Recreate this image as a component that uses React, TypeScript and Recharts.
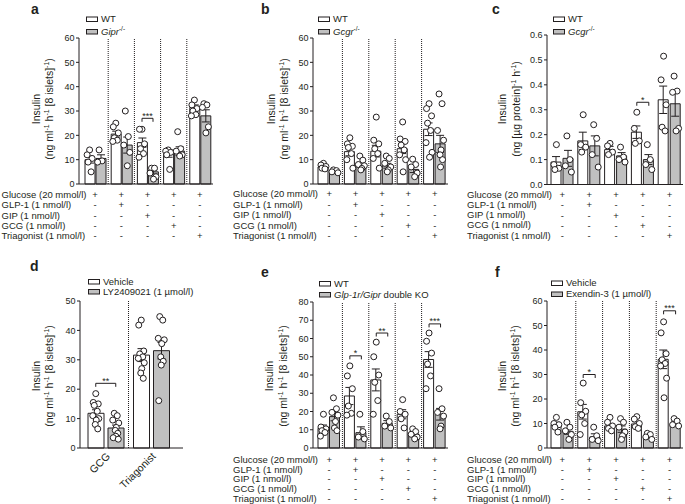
import React from 'react';
import { ComposedChart, Bar, ErrorBar, Scatter, XAxis, YAxis, ReferenceLine } from 'recharts';

const FONT = '"Liberation Sans", Arial, Helvetica, sans-serif';
const INK = '#231f20';
const GREY = '#c0c0c0';

// treatment table shared by panels a, b, c, e, f
const CONDS = ['Glucose', 'GLP-1', 'GIP', 'GCG', 'Triagonist'];
const ROW_LABELS = ['Glucose (20 mmol/l)', 'GLP-1 (1 nmol/l)', 'GIP (1 nmol/l)', 'GCG (1 nmol/l)', 'Triagonist (1 nmol/l)'];
const ROW_SIGNS = [
  ['+', '+', '+', '+', '+'],
  ['-', '+', '-', '-', '-'],
  ['-', '-', '+', '-', '-'],
  ['-', '-', '-', '+', '-'],
  ['-', '-', '-', '-', '+'],
];

// --- panel a: WT vs Gipr-/- ---
const A_WT_MEAN = [10, 20.5, 17, 12.5, 31.5];
const A_WT_SEM = [1.4, 1.2, 1.9, 1.5, 1.0];
const A_KO_MEAN = [10.5, 16, 5, 13.5, 28];
const A_KO_SEM = [1.5, 3.3, 0.9, 1.8, 2.5];
const A_WT_PTS = [[14, 12, 10.5, 9, 5], [25, 23.5, 21, 19, 18, 17.5], [22.5, 22.5, 16.5, 14.5, 12.5, 11], [14, 13.5, 13, 12, 6], [34.5, 32.5, 31, 30, 28.5, 28]];
const A_KO_PTS = [[14, 9.5, 9], [30, 19.5, 16, 13, 7.5], [6.5, 6.5, 4.5, 3, 2], [21.5, 14.5, 13.5, 12, 11.5], [33, 32.5, 31.5, 23.5, 21]];
const A_SIG_Y = [null, null, 27, null, null];
const A_SIG = ['', '', '***', '', ''];

// --- panel b: WT vs Gcgr-/- (islets) ---
const B_WT_MEAN = [7, 13.3, 13.5, 14.5, 22.5];
const B_WT_SEM = [0.5, 1.7, 2.4, 2.0, 2.6];
const B_KO_MEAN = [5.2, 8, 7.5, 6, 16.5];
const B_KO_SEM = [0.3, 0.9, 1.0, 1.3, 3.5];
const B_WT_PTS = [[8.5, 7.8, 7.2, 6.5, 6.2], [19, 16.5, 15.5, 15, 12.5, 10, 6.5], [27.5, 18, 16.5, 14.5, 12.5, 10.5, 6.5], [25.5, 18.5, 17.5, 16, 14, 12, 10, 5], [33, 31, 28, 25, 22, 17, 13, 11]];
const B_KO_PTS = [[5.8, 5.5, 5, 4.6], [11.5, 9.8, 8, 7.5, 6.4, 5.8], [11.5, 10.5, 8.5, 7, 5.8, 5], [10.2, 8, 7, 4.5, 3], [37, 33, 22, 18, 14, 12, 10, 7]];
const B_SIG_Y = [null, null, null, null, null];
const B_SIG = ['', '', '', '', ''];

// --- panel c: WT vs Gcgr-/- (per protein) ---
const C_WT_MEAN = [0.09, 0.175, 0.14, 0.21, 0.34];
const C_WT_SEM = [0.022, 0.035, 0.013, 0.025, 0.055];
const C_KO_MEAN = [0.105, 0.155, 0.115, 0.1, 0.324];
const C_KO_SEM = [0.032, 0.04, 0.013, 0.02, 0.05];
const C_WT_PTS = [[0.16, 0.08, 0.065, 0.06], [0.28, 0.16, 0.15, 0.13], [0.165, 0.155, 0.13, 0.12], [0.29, 0.225, 0.175, 0.165], [0.515, 0.42, 0.32, 0.23, 0.215]];
const C_KO_PTS = [[0.195, 0.1, 0.075, 0.05], [0.24, 0.185, 0.12, 0.07], [0.15, 0.11, 0.1, 0.09], [0.16, 0.1, 0.08, 0.06], [0.435, 0.375, 0.37, 0.225, 0.215]];
const C_SIG_Y = [null, null, null, 0.33, null];
const C_SIG = ['', '', '', '*', ''];

// --- panel d: vehicle vs LY2409021 ---
const D_CONDS = ['GCG', 'Triagonist'];
const D_VEH_MEAN = [11.8, 31.6];
const D_VEH_SEM = [1.2, 2.2];
const D_LY_MEAN = [6.8, 33.1];
const D_LY_SEM = [1.0, 2.8];
const D_VEH_PTS = [[18.5, 15.5, 15, 14.5, 12.5, 11, 10, 9.5, 8, 6.5], [43.5, 41.8, 33, 32, 31, 30.5, 29, 27, 25.5, 23.7]];
const D_LY_PTS = [[11.8, 11, 9.5, 8.5, 7, 6, 5, 4, 3.5, 3], [44.7, 43.5, 37.3, 36.8, 35.5, 31, 29.5, 28.2, 16.1]];
const D_SIG_Y = [22, null];
const D_SIG = ['**', ''];

// --- panel e: WT vs Glp-1r/Gipr double KO ---
const E_WT_MEAN = [10.8, 28.5, 37.3, 18.5, 48.5];
const E_WT_SEM = [1.8, 4.7, 6, 2.5, 4.3];
const E_KO_MEAN = [17.2, 8.4, 13.5, 7.7, 18.5];
const E_KO_SEM = [2.3, 3.2, 1.5, 1.0, 3.2];
const E_WT_PTS = [[18.5, 11.5, 10.5, 9.5, 8.5, 6.5], [45, 39.5, 32.5, 23, 19, 18], [58, 50, 40, 36, 26, 18.5], [26.5, 20, 18.5, 16, 11], [63, 58.5, 52, 46, 39.5, 32.5]];
const E_KO_PTS = [[27.5, 21.5, 19.5, 18, 14.5, 11, 9.5], [18.5, 9, 6, 5], [17.5, 14.5, 12, 11], [10.5, 9, 7.5, 6, 5], [32.5, 21.5, 19.5, 17.5, 12, 10.5]];
const E_SIG_Y = [null, 50.5, 63, null, 68];
const E_SIG = ['', '*', '**', '', '***'];

// --- panel f: vehicle vs Exendin-3 ---
const F_VEH_MEAN = [9.5, 14.8, 9, 9.8, 36.2];
const F_VEH_SEM = [1.0, 3, 0.9, 0.9, 3.8];
const F_EX_MEAN = [6.8, 4.5, 7.7, 4.5, 10];
const F_EX_SEM = [1.2, 1.3, 1.3, 0.6, 0.7];
const F_VEH_PTS = [[12.5, 10, 9.5, 8.5, 6.5], [26.5, 18.5, 15, 13.5, 10, 5.5], [12.5, 10.5, 9, 8, 7], [12.8, 11.8, 10, 8.7, 8], [51.5, 47, 38.5, 36, 34.5, 33.5, 28.5, 20.5]];
const F_EX_PTS = [[10.5, 8.5, 7, 5.5, 3.5], [8.5, 5, 3.5, 3], [12, 10.5, 8.5, 6.5, 5, 3.5], [6, 5.5, 4.5, 3.5], [12, 11, 9.5, 9]];
const F_SIG_Y = [null, 30, null, null, 56];
const F_SIG = ['', '*', '', '', '***'];

const TICKS_60 = [0, 10, 20, 30, 40, 50, 60];
const TICKS_50 = [0, 10, 20, 30, 40, 50];
const TICKS_80 = [0, 10, 20, 30, 40, 50, 60, 70, 80];
const TICKS_C = [0, 0.1, 0.2, 0.3, 0.4, 0.5, 0.6];

// y-axis unit lines: [text, isSuperscript]
const UNIT_ISLETS: [string, boolean][] = [['(ng ml', false], ['-1', true], [' h', false], ['-1', true], [' [8 islets]', false], ['-1', true], [')', false]];
const UNIT_PROTEIN: [string, boolean][] = [['(ng [µg protein]', false], ['-1', true], [' h', false], ['-1', true], [')', false]];

// horizontal spread of the dots inside a bar
const JIT = [0, -2.5, 2.5, -1.5, 1.5, -3, 3, 0.5, -0.5, 2];

const TABLE_FS = 9.5;

type Series = { means: number[]; sems: number[]; pts: number[][] };
type Cfg = {
  conds: string[];
  wt: Series;
  ko: Series;
  sigY: (number | null)[];
  sigTxt: string[];
  axisX: number;
  plotTop: number;
  plotBottom: number;
  plotRight: number;
  yMax: number;
  yTicks: number[];
  dec: number;
  barSize: number;
  barGap: number;
  padL: number;
  padR: number;
  separators: boolean;
  table: boolean;
  rowStart: number;
  rowStep: number;
};

const dotShape = (dx: number, k: number) => (props: any) => {
  const { cx, cy } = props;
  if (!Number.isFinite(cx) || !Number.isFinite(cy)) return <g />;
  return <circle cx={cx + dx + JIT[k % JIT.length]} cy={cy} r={3} fill="#fff" stroke={INK} strokeWidth={1} />;
};

const sigShape = (half: number) => (props: any) => {
  const { cx, cy, payload } = props;
  if (!Number.isFinite(cy) || !payload || !payload.sigTxt) return <g />;
  return (
    <g>
      <path d={`M${cx - half},${cy + 3.5}V${cy}H${cx + half}V${cy + 3.5}`} fill="none" stroke={INK} strokeWidth={1} />
      <text x={cx} y={cy + 0.5} textAnchor="middle" fontSize={9} fontFamily={FONT} fill={INK}>
        {payload.sigTxt}
      </text>
    </g>
  );
};

const TableTick = (props: any) => {
  const { x, y, payload, rowStart, rowStep } = props;
  const i = CONDS.indexOf(payload.value);
  return (
    <g>
      {ROW_SIGNS.map((r, k) => (
        <text key={k} x={x} y={y + rowStart + k * rowStep} textAnchor="middle" dominantBaseline="central"
          fontSize={TABLE_FS} fontFamily={FONT} fill={INK}>
          {r[i]}
        </text>
      ))}
    </g>
  );
};

const RotTick = (props: any) => {
  const { x, y, payload } = props;
  const tx = x + 5;
  const ty = y + 9;
  return (
    <text x={tx} y={ty} transform={`rotate(-45, ${tx}, ${ty})`} textAnchor="end" fontSize={10.5} fontFamily={FONT} fill={INK}>
      {payload.value}
    </text>
  );
};

const Panel = ({ cfg }: { cfg: Cfg }) => {
  const YW = 40, MT = 8, MR = 4;
  const XH = cfg.table ? 60 : 56;
  const plotW = cfg.plotRight - cfg.axisX;
  const plotH = cfg.plotBottom - cfg.plotTop;

  const data = cfg.conds.map((c, i) => {
    const row: Record<string, any> = {
      cond: c,
      wt: cfg.wt.means[i],
      wtSem: cfg.wt.sems[i],
      ko: cfg.ko.means[i],
      koSem: cfg.ko.sems[i],
      sig: cfg.sigY[i],
      sigTxt: cfg.sigTxt[i],
    };
    cfg.wt.pts[i].forEach((v, k) => { row['wp' + k] = v; });
    cfg.ko.pts[i].forEach((v, k) => { row['kp' + k] = v; });
    return row;
  });
  const nW = Math.max(...cfg.wt.pts.map((p) => p.length));
  const nK = Math.max(...cfg.ko.pts.map((p) => p.length));
  const off = (cfg.barSize + cfg.barGap) / 2;

  return (
    <div style={{ position: 'absolute', left: cfg.axisX - YW, top: cfg.plotTop - MT }}>
      <ComposedChart
        width={YW + plotW + MR}
        height={MT + plotH + XH}
        data={data}
        margin={{ top: MT, right: MR, left: 0, bottom: 0 }}
        barSize={cfg.barSize}
        barGap={cfg.barGap}
      >
        <XAxis
          dataKey="cond"
          allowDuplicatedCategory={false}
          padding={{ left: cfg.padL, right: cfg.padR }}
          height={XH}
          interval={0}
          axisLine={{ stroke: INK, strokeWidth: 1 }}
          tickLine={false}
          tickSize={0}
          tickMargin={0}
          tick={cfg.table
            ? (p: any) => <TableTick {...p} rowStart={cfg.rowStart} rowStep={cfg.rowStep} />
            : (p: any) => <RotTick {...p} />}
        />
        <YAxis
          width={YW}
          domain={[0, cfg.yMax]}
          ticks={cfg.yTicks}
          interval={0}
          axisLine={{ stroke: INK, strokeWidth: 1 }}
          tickLine={{ stroke: INK, strokeWidth: 1 }}
          tickSize={3}
          tickMargin={1.5}
          tick={{ fontSize: 9, fill: INK, fontFamily: FONT }}
          tickFormatter={(v: number) => v.toFixed(cfg.dec)}
        />
        {cfg.separators && cfg.conds.slice(1).map((c) => (
          <ReferenceLine key={c} x={c} position="start" stroke={INK} strokeWidth={1} strokeDasharray="1 1" />
        ))}
        <Bar dataKey="wt" fill="#ffffff" stroke={INK} strokeWidth={1} isAnimationActive={false}>
          <ErrorBar dataKey="wtSem" width={4} stroke={INK} strokeWidth={1} direction="y" />
        </Bar>
        <Bar dataKey="ko" fill={GREY} stroke={INK} strokeWidth={1} isAnimationActive={false}>
          <ErrorBar dataKey="koSem" width={4} stroke={INK} strokeWidth={1} direction="y" />
        </Bar>
        {Array.from({ length: nW }, (_, k) => (
          <Scatter key={'w' + k} dataKey={'wp' + k} isAnimationActive={false} shape={dotShape(-off, k)} />
        ))}
        {Array.from({ length: nK }, (_, k) => (
          <Scatter key={'k' + k} dataKey={'kp' + k} isAnimationActive={false} shape={dotShape(off, k + 3)} />
        ))}
        <Scatter dataKey="sig" isAnimationActive={false} shape={sigShape(off)} />
      </ComposedChart>
    </div>
  );
};

const YTitle = ({ x1, x2, cy, unit }: { x1: number; x2: number; cy: number; unit: [string, boolean][] }) => (
  <g fontSize={10.5}>
    <text transform={`translate(${x1},${cy}) rotate(-90)`} textAnchor="middle">Insulin</text>
    <text transform={`translate(${x2},${cy}) rotate(-90)`} textAnchor="middle">
      {unit.map(([t, sup], i) => (
        <tspan key={i} dy={sup ? -4 : i > 0 && unit[i - 1][1] ? 4 : 0} fontSize={sup ? 7 : undefined}>{t}</tspan>
      ))}
    </text>
  </g>
);

const LegendItem = ({ x, y, fill, children }: { x: number; y: number; fill: string; children: React.ReactNode }) => (
  <g>
    <rect x={x + 0.5} y={y + 0.5} width={11} height={4.5} fill={fill} stroke={INK} strokeWidth={1} />
    <text x={x + 15} y={y + 5.5} fontSize={9.5}>{children}</text>
  </g>
);

const RowLabels = ({ x, start, step }: { x: number; start: number; step: number }) => (
  <g fontSize={TABLE_FS}>
    {ROW_LABELS.map((l, k) => (
      <text key={k} x={x} y={start + k * step} dominantBaseline="central">{l}</text>
    ))}
  </g>
);

const Overlay = () => (
  <svg width={685} height={504} style={{ position: 'absolute', left: 0, top: 0, pointerEvents: 'none' }}
    fontFamily={FONT} fill={INK}>
    <g fontSize={14} fontWeight="bold">
      <text x={31} y={14}>a</text>
      <text x={261} y={14}>b</text>
      <text x={492} y={14}>c</text>
      <text x={30} y={271}>d</text>
      <text x={261} y={277}>e</text>
      <text x={495} y={277}>f</text>
    </g>

    <YTitle x1={40} x2={53} cy={109} unit={UNIT_ISLETS} />
    <YTitle x1={275} x2={288} cy={109} unit={UNIT_ISLETS} />
    <YTitle x1={506} x2={520} cy={109} unit={UNIT_PROTEIN} />
    <YTitle x1={40} x2={53} cy={376} unit={UNIT_ISLETS} />
    <YTitle x1={273} x2={287} cy={376} unit={UNIT_ISLETS} />
    <YTitle x1={506} x2={519} cy={376} unit={UNIT_ISLETS} />

    <LegendItem x={86} y={16.5} fill="#fff">WT</LegendItem>
    <LegendItem x={86} y={29} fill={GREY}>
      <tspan fontStyle="italic">Gipr</tspan><tspan dy={-4} fontSize={6.5}>-/-</tspan>
    </LegendItem>
    <LegendItem x={318} y={16.5} fill="#fff">WT</LegendItem>
    <LegendItem x={318} y={29} fill={GREY}>
      <tspan fontStyle="italic">Gcgr</tspan><tspan dy={-4} fontSize={6.5}>-/-</tspan>
    </LegendItem>
    <LegendItem x={553} y={16.5} fill="#fff">WT</LegendItem>
    <LegendItem x={553} y={29} fill={GREY}>
      <tspan fontStyle="italic">Gcgr</tspan><tspan dy={-4} fontSize={6.5}>-/-</tspan>
    </LegendItem>
    <LegendItem x={88} y={279} fill="#fff">Vehicle</LegendItem>
    <LegendItem x={88} y={289} fill={GREY}>LY2409021 (1 µmol/l)</LegendItem>
    <LegendItem x={319} y={281} fill="#fff">WT</LegendItem>
    <LegendItem x={319} y={292} fill={GREY}>
      <tspan fontStyle="italic">Glp-1r/Gipr</tspan> double KO
    </LegendItem>
    <LegendItem x={551} y={280.5} fill="#fff">Vehicle</LegendItem>
    <LegendItem x={551} y={291.5} fill={GREY}>Exendin-3 (1 µmol/l)</LegendItem>

    <RowLabels x={1.5} start={194.3} step={10.4} />
    <RowLabels x={233} start={193.8} step={10.5} />
    <RowLabels x={467} start={194} step={10.3} />
    <RowLabels x={233} start={459.5} step={9.7} />
    <RowLabels x={467} start={459.5} step={9.7} />
  </svg>
);

export default function App() {
  const top = { plotTop: 38, plotBottom: 184, yMax: 60, yTicks: TICKS_60, dec: 0, separators: true, table: true };
  const panels: Cfg[] = [
    {
      ...top, conds: CONDS,
      wt: { means: A_WT_MEAN, sems: A_WT_SEM, pts: A_WT_PTS },
      ko: { means: A_KO_MEAN, sems: A_KO_SEM, pts: A_KO_PTS },
      sigY: A_SIG_Y, sigTxt: A_SIG,
      axisX: 79, plotRight: 213, barSize: 10, barGap: 1, padL: 3, padR: 0,
      rowStart: 10.3, rowStep: 10.4,
    },
    {
      ...top, conds: CONDS,
      wt: { means: B_WT_MEAN, sems: B_WT_SEM, pts: B_WT_PTS },
      ko: { means: B_KO_MEAN, sems: B_KO_SEM, pts: B_KO_PTS },
      sigY: B_SIG_Y, sigTxt: B_SIG,
      axisX: 313, plotRight: 448, barSize: 10, barGap: 1.5, padL: 3, padR: 0,
      rowStart: 9.8, rowStep: 10.5,
    },
    {
      ...top, conds: CONDS, plotTop: 34.5, yMax: 0.6, yTicks: TICKS_C, dec: 1, separators: false,
      wt: { means: C_WT_MEAN, sems: C_WT_SEM, pts: C_WT_PTS },
      ko: { means: C_KO_MEAN, sems: C_KO_SEM, pts: C_KO_PTS },
      sigY: C_SIG_Y, sigTxt: C_SIG,
      axisX: 547, plotRight: 683, barSize: 10, barGap: 2, padL: 2, padR: 0,
      rowStart: 10, rowStep: 10.3,
    },
    {
      conds: D_CONDS, plotTop: 301, plotBottom: 448, yMax: 50, yTicks: TICKS_50, dec: 0, separators: true, table: false,
      wt: { means: D_VEH_MEAN, sems: D_VEH_SEM, pts: D_VEH_PTS },
      ko: { means: D_LY_MEAN, sems: D_LY_SEM, pts: D_LY_PTS },
      sigY: D_SIG_Y, sigTxt: D_SIG,
      axisX: 80, plotRight: 183, barSize: 16, barGap: 4, padL: 3, padR: 9,
      rowStart: 0, rowStep: 0,
    },
    {
      conds: CONDS, plotTop: 302, plotBottom: 448, yMax: 80, yTicks: TICKS_80, dec: 0, separators: true, table: true,
      wt: { means: E_WT_MEAN, sems: E_WT_SEM, pts: E_WT_PTS },
      ko: { means: E_KO_MEAN, sems: E_KO_SEM, pts: E_KO_PTS },
      sigY: E_SIG_Y, sigTxt: E_SIG,
      axisX: 313, plotRight: 448, barSize: 10, barGap: 1.5, padL: 3, padR: 0,
      rowStart: 11.5, rowStep: 9.7,
    },
    {
      conds: CONDS, plotTop: 301, plotBottom: 448, yMax: 60, yTicks: TICKS_60, dec: 0, separators: true, table: true,
      wt: { means: F_VEH_MEAN, sems: F_VEH_SEM, pts: F_VEH_PTS },
      ko: { means: F_EX_MEAN, sems: F_EX_SEM, pts: F_EX_PTS },
      sigY: F_SIG_Y, sigTxt: F_SIG,
      axisX: 547, plotRight: 683, barSize: 10, barGap: 2, padL: 2, padR: 0,
      rowStart: 11.5, rowStep: 9.7,
    },
  ];

  return (
    <div style={{ position: 'absolute', left: 0, top: 0, width: 685, height: 504, background: '#fff', fontFamily: FONT }}>
      {panels.map((p, i) => <Panel key={i} cfg={p} />)}
      <Overlay />
    </div>
  );
}
